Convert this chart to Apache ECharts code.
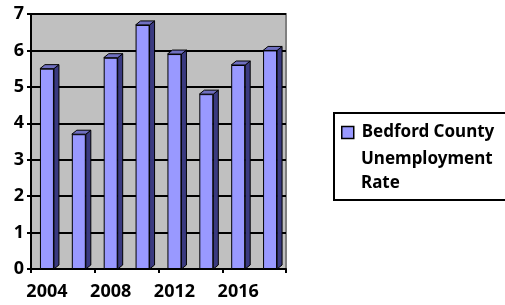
<!DOCTYPE html>
<html>
<head>
<meta charset="utf-8">
<script src="https://cdn.jsdelivr.net/npm/echarts@6/dist/echarts.min.js"></script>
<style>
  html, body { margin: 0; padding: 0; background: #fff; }
  #chart { width: 505px; height: 305px; }
</style>
</head>
<body>
<div id="chart"></div>
<script>
var years = ['2004', '2006', '2008', '2010', '2012', '2014', '2016', '2018'];
var rates = [5.5, 3.7, 5.8, 6.7, 5.9, 4.8, 5.6, 6.0];
var seriesName = 'Bedford County';
var legendRest = 'Unemployment\nRate';

var chartDom = document.getElementById('chart');
var myChart = echarts.init(chartDom);
var font = '"Noto Sans", sans-serif';

var barW = 14, dx = 5, dy = -4;

// top and side faces for the 3D look
function renderDepth(params, api) {
  var idx = api.value(0);
  var top = api.coord([idx, api.value(1)]);
  var base = api.coord([idx, 0]);
  var xl = top[0] - barW / 2, xr = top[0] + barW / 2, y = top[1], y0 = base[1];
  var st = { stroke: '#000', lineWidth: 1 };
  return {
    type: 'group',
    children: [
      { type: 'polygon', shape: { points: [[xr, y], [xr + dx, y + dy], [xr + dx, y0 + dy], [xr, y0]] },
        style: Object.assign({ fill: '#3a3a80' }, st) },
      { type: 'polygon', shape: { points: [[xl, y], [xl + dx, y + dy], [xr + dx, y + dy], [xr, y]] },
        style: Object.assign({ fill: '#6f6fc0' }, st) }
    ]
  };
}

var option = {
  animation: false,
  grid: {
    left: 31, top: 14, width: 255, height: 255,
    show: true, backgroundColor: '#c0c0c0', borderColor: '#808080', borderWidth: 2
  },
  graphic: [
    { type: 'rect', left: 333, top: 112, shape: { width: 190, height: 87 },
      style: { fill: '#fff', stroke: '#000', lineWidth: 2 }, z: -1 },
    { type: 'text', left: 361, top: 147,
      style: { text: legendRest, font: 'bold 17px "Noto Sans", sans-serif', fill: '#000', lineHeight: 24 } }
  ],
  legend: {
    data: [seriesName],
    left: 341, top: 124,
    padding: 0,
    icon: 'rect', itemWidth: 12, itemHeight: 12, itemGap: 0,
    itemStyle: { borderColor: '#000', borderWidth: 1.5 },
    textStyle: { fontFamily: font, fontWeight: 'bold', fontSize: 17, color: '#000', padding: [0, 0, 0, 3] }
  },
  xAxis: {
    type: 'category',
    data: years,
    axisLine: { lineStyle: { color: '#000', width: 2 } },
    axisTick: { show: true, length: 4, lineStyle: { color: '#000', width: 2 } },
    axisLabel: { interval: 1, margin: 14, fontFamily: font, fontWeight: 'bold', fontSize: 18, color: '#000' }
  },
  yAxis: {
    type: 'value',
    min: 0, max: 7, interval: 1,
    axisLine: { show: true, lineStyle: { color: '#000', width: 2 } },
    axisTick: { show: true, length: 4, lineStyle: { color: '#000', width: 2 } },
    splitLine: { lineStyle: { color: '#000', width: 2 } },
    axisLabel: { margin: 7, fontFamily: font, fontWeight: 'bold', fontSize: 18, color: '#000' }
  },
  series: [
    {
      name: seriesName,
      type: 'bar',
      data: rates,
      barWidth: barW,
      itemStyle: { color: '#9999ff', borderColor: '#000', borderWidth: 1 }
    },
    {
      type: 'custom',
      silent: true,
      renderItem: renderDepth,
      data: rates.map(function (v, i) { return [i, v]; }),
      z: 3
    }
  ]
};

option && myChart.setOption(option);
</script>
</body>
</html>
